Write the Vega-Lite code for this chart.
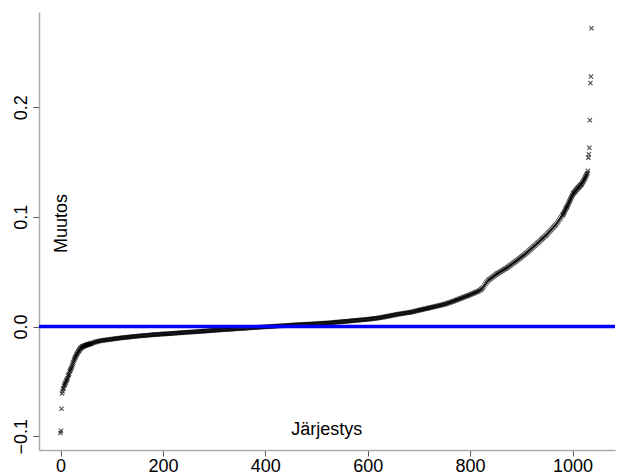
{
"$schema": "https://vega.github.io/schema/vega-lite/v6.json",
"width": 576, "height": 438,
"autosize": {"type": "none"},
"padding": {"left": 39, "top": 12, "right": 3, "bottom": 24},
"background": "white",
"config": {"view": {"stroke": null}, "font": "Liberation Sans",
  "axis": {"grid": false, "title": null, "domainColor": "#aaaaaa", "domainWidth": 1.5, "tickColor": "#555555", "tickWidth": 1, "tickSize": 6, "labelFontSize": 18, "labelColor": "#000000", "labelFont": "Liberation Sans", "labelOverlap": false, "labelFlush": false}},
"layer": [
{"data": {"values": [
{"i":0,"v":-0.097},{"i":1,"v":-0.095},{"i":2,"v":-0.075},{"i":3,"v":-0.061},{"i":4,"v":-0.059},{"i":5,"v":-0.057},{"i":6,"v":-0.056},{"i":7,"v":-0.054},{"i":8,"v":-0.053},{"i":9,"v":-0.052},
{"i":10,"v":-0.051},{"i":11,"v":-0.050},{"i":12,"v":-0.049},{"i":13,"v":-0.048},{"i":14,"v":-0.047},{"i":15,"v":-0.045},{"i":16,"v":-0.044},{"i":17,"v":-0.043},{"i":18,"v":-0.041},{"i":19,"v":-0.040},
{"i":20,"v":-0.039},{"i":21,"v":-0.038},{"i":22,"v":-0.037},{"i":23,"v":-0.0355},{"i":24,"v":-0.034},{"i":25,"v":-0.0325},{"i":26,"v":-0.031},{"i":27,"v":-0.030},{"i":28,"v":-0.029},{"i":29,"v":-0.028},
{"i":30,"v":-0.027},{"i":31,"v":-0.026},{"i":32,"v":-0.025},{"i":33,"v":-0.0243},{"i":34,"v":-0.0235},{"i":35,"v":-0.0228},{"i":36,"v":-0.022},{"i":37,"v":-0.0213},{"i":38,"v":-0.0207},{"i":39,"v":-0.0201},
{"i":40,"v":-0.0196},{"i":41,"v":-0.0192},{"i":42,"v":-0.0188},{"i":43,"v":-0.0185},{"i":44,"v":-0.0182},{"i":45,"v":-0.0180},{"i":46,"v":-0.0178},{"i":47,"v":-0.0176},{"i":48,"v":-0.0174},{"i":49,"v":-0.0172},
{"i":50,"v":-0.0170},{"i":51,"v":-0.0168},{"i":52,"v":-0.0167},{"i":53,"v":-0.0165},{"i":54,"v":-0.0164},{"i":55,"v":-0.0162},{"i":56,"v":-0.0161},{"i":57,"v":-0.0159},{"i":58,"v":-0.0158},{"i":59,"v":-0.0156},
{"i":60,"v":-0.0155},{"i":62,"v":-0.0152},{"i":64,"v":-0.0148},{"i":66,"v":-0.0145},{"i":68,"v":-0.0142},{"i":70,"v":-0.0140},{"i":72,"v":-0.0137},{"i":74,"v":-0.0135},{"i":76,"v":-0.0133},{"i":78,"v":-0.0130},
{"i":80,"v":-0.0128},{"i":82,"v":-0.0127},{"i":84,"v":-0.0125},{"i":86,"v":-0.0124},{"i":88,"v":-0.0123},{"i":90,"v":-0.0122},{"i":92,"v":-0.0120},{"i":94,"v":-0.0119},{"i":96,"v":-0.0118},{"i":98,"v":-0.0116},
{"i":100,"v":-0.0115},{"i":102,"v":-0.0114},{"i":104,"v":-0.0113},{"i":106,"v":-0.0111},{"i":108,"v":-0.0110},{"i":110,"v":-0.0109},{"i":112,"v":-0.0108},{"i":114,"v":-0.0107},{"i":116,"v":-0.0105},{"i":118,"v":-0.0104},
{"i":120,"v":-0.0103},{"i":122,"v":-0.0102},{"i":124,"v":-0.0101},{"i":126,"v":-0.0100},{"i":128,"v":-0.0099},{"i":130,"v":-0.0098},{"i":132,"v":-0.0097},{"i":134,"v":-0.0096},{"i":136,"v":-0.0095},{"i":138,"v":-0.0094},
{"i":140,"v":-0.0093},{"i":142,"v":-0.0092},{"i":144,"v":-0.0091},{"i":146,"v":-0.0090},{"i":148,"v":-0.0089},{"i":150,"v":-0.0088},{"i":152,"v":-0.0087},{"i":154,"v":-0.0086},{"i":156,"v":-0.0085},{"i":158,"v":-0.0085},
{"i":160,"v":-0.0084},{"i":162,"v":-0.0083},{"i":164,"v":-0.0082},{"i":166,"v":-0.0081},{"i":168,"v":-0.0080},{"i":170,"v":-0.0080},{"i":172,"v":-0.0079},{"i":174,"v":-0.0078},{"i":176,"v":-0.0077},{"i":178,"v":-0.0076},
{"i":180,"v":-0.0075},{"i":182,"v":-0.0074},{"i":184,"v":-0.0074},{"i":186,"v":-0.0073},{"i":188,"v":-0.0072},{"i":190,"v":-0.0072},{"i":192,"v":-0.0071},{"i":194,"v":-0.0070},{"i":196,"v":-0.0070},{"i":198,"v":-0.0069},
{"i":200,"v":-0.0068},{"i":202,"v":-0.0068},{"i":204,"v":-0.0067},{"i":206,"v":-0.0067},{"i":208,"v":-0.0066},{"i":210,"v":-0.0065},{"i":212,"v":-0.0065},{"i":214,"v":-0.0064},{"i":216,"v":-0.0063},{"i":218,"v":-0.0063},
{"i":220,"v":-0.0062},{"i":222,"v":-0.0061},{"i":224,"v":-0.0061},{"i":226,"v":-0.0060},{"i":228,"v":-0.0059},{"i":230,"v":-0.0059},{"i":232,"v":-0.0058},{"i":234,"v":-0.0057},{"i":236,"v":-0.0057},{"i":238,"v":-0.0056},
{"i":240,"v":-0.0055},{"i":242,"v":-0.0055},{"i":244,"v":-0.0054},{"i":246,"v":-0.0053},{"i":248,"v":-0.0053},{"i":250,"v":-0.0052},{"i":252,"v":-0.0051},{"i":254,"v":-0.0051},{"i":256,"v":-0.0050},{"i":258,"v":-0.0049},
{"i":260,"v":-0.0049},{"i":262,"v":-0.0048},{"i":264,"v":-0.0047},{"i":266,"v":-0.0047},{"i":268,"v":-0.0046},{"i":270,"v":-0.0045},{"i":272,"v":-0.0045},{"i":274,"v":-0.0044},{"i":276,"v":-0.0043},{"i":278,"v":-0.0043},
{"i":280,"v":-0.0042},{"i":282,"v":-0.0041},{"i":284,"v":-0.0041},{"i":286,"v":-0.0040},{"i":288,"v":-0.0039},{"i":290,"v":-0.0039},{"i":292,"v":-0.0038},{"i":294,"v":-0.0037},{"i":296,"v":-0.0037},{"i":298,"v":-0.0036},
{"i":300,"v":-0.0035},{"i":302,"v":-0.0035},{"i":304,"v":-0.0034},{"i":306,"v":-0.0033},{"i":308,"v":-0.0032},{"i":310,"v":-0.0032},{"i":312,"v":-0.0031},{"i":314,"v":-0.0030},{"i":316,"v":-0.0030},{"i":318,"v":-0.0029},
{"i":320,"v":-0.0028},{"i":322,"v":-0.0028},{"i":324,"v":-0.0027},{"i":326,"v":-0.0026},{"i":328,"v":-0.0026},{"i":330,"v":-0.0025},{"i":332,"v":-0.0025},{"i":334,"v":-0.0024},{"i":336,"v":-0.0023},{"i":338,"v":-0.0023},
{"i":340,"v":-0.0022},{"i":342,"v":-0.0021},{"i":344,"v":-0.0021},{"i":346,"v":-0.0020},{"i":348,"v":-0.0019},{"i":350,"v":-0.0019},{"i":352,"v":-0.0018},{"i":354,"v":-0.0017},{"i":356,"v":-0.0017},{"i":358,"v":-0.0016},
{"i":360,"v":-0.0015},{"i":362,"v":-0.0015},{"i":364,"v":-0.0014},{"i":366,"v":-0.0013},{"i":368,"v":-0.0013},{"i":370,"v":-0.0012},{"i":372,"v":-0.0011},{"i":374,"v":-0.0011},{"i":376,"v":-0.0010},{"i":378,"v":-0.0010},
{"i":380,"v":-0.0009},{"i":382,"v":-0.0008},{"i":384,"v":-0.0008},{"i":386,"v":-0.0007},{"i":388,"v":-0.0007},{"i":390,"v":-0.0006},{"i":392,"v":-0.0005},{"i":394,"v":-0.0005},{"i":396,"v":-0.0004},{"i":398,"v":-0.0004},
{"i":400,"v":-0.0003},{"i":402,"v":-0.0002},{"i":404,"v":-0.0002},{"i":406,"v":-0.0001},{"i":408,"v":-0.0001},{"i":410,"v":0.0000},{"i":412,"v":0.0001},{"i":414,"v":0.0001},{"i":416,"v":0.0002},{"i":418,"v":0.0002},
{"i":420,"v":0.0003},{"i":422,"v":0.0004},{"i":424,"v":0.0004},{"i":426,"v":0.0005},{"i":428,"v":0.0005},{"i":430,"v":0.0006},{"i":432,"v":0.0007},{"i":434,"v":0.0007},{"i":436,"v":0.0008},{"i":438,"v":0.0008},
{"i":440,"v":0.0009},{"i":442,"v":0.0010},{"i":444,"v":0.0010},{"i":446,"v":0.0011},{"i":448,"v":0.0011},{"i":450,"v":0.0012},{"i":452,"v":0.0013},{"i":454,"v":0.0013},{"i":456,"v":0.0014},{"i":458,"v":0.0014},
{"i":460,"v":0.0015},{"i":462,"v":0.0015},{"i":464,"v":0.0016},{"i":466,"v":0.0016},{"i":468,"v":0.0017},{"i":470,"v":0.0018},{"i":472,"v":0.0018},{"i":474,"v":0.0019},{"i":476,"v":0.0019},{"i":478,"v":0.0020},
{"i":480,"v":0.0020},{"i":482,"v":0.0021},{"i":484,"v":0.0021},{"i":486,"v":0.0022},{"i":488,"v":0.0023},{"i":490,"v":0.0023},{"i":492,"v":0.0024},{"i":494,"v":0.0024},{"i":496,"v":0.0025},{"i":498,"v":0.0025},
{"i":500,"v":0.0026},{"i":502,"v":0.0027},{"i":504,"v":0.0027},{"i":506,"v":0.0028},{"i":508,"v":0.0028},{"i":510,"v":0.0029},{"i":512,"v":0.0030},{"i":514,"v":0.0030},{"i":516,"v":0.0031},{"i":518,"v":0.0031},
{"i":520,"v":0.0032},{"i":522,"v":0.0033},{"i":524,"v":0.0033},{"i":526,"v":0.0034},{"i":528,"v":0.0034},{"i":530,"v":0.0035},{"i":532,"v":0.0036},{"i":534,"v":0.0037},{"i":536,"v":0.0038},{"i":538,"v":0.0039},
{"i":540,"v":0.0040},{"i":542,"v":0.0041},{"i":544,"v":0.0041},{"i":546,"v":0.0042},{"i":548,"v":0.0043},{"i":550,"v":0.0044},{"i":552,"v":0.0045},{"i":554,"v":0.0046},{"i":556,"v":0.0046},{"i":558,"v":0.0047},
{"i":560,"v":0.0048},{"i":562,"v":0.0049},{"i":564,"v":0.0050},{"i":566,"v":0.0051},{"i":568,"v":0.0052},{"i":570,"v":0.0053},{"i":572,"v":0.0054},{"i":574,"v":0.0055},{"i":576,"v":0.0055},{"i":578,"v":0.0056},
{"i":580,"v":0.0057},{"i":582,"v":0.0058},{"i":584,"v":0.0059},{"i":586,"v":0.0060},{"i":588,"v":0.0061},{"i":590,"v":0.0062},{"i":592,"v":0.0062},{"i":594,"v":0.0063},{"i":596,"v":0.0064},{"i":598,"v":0.0065},
{"i":600,"v":0.0066},{"i":602,"v":0.0067},{"i":604,"v":0.0068},{"i":606,"v":0.0069},{"i":608,"v":0.0071},{"i":610,"v":0.0072},{"i":612,"v":0.0073},{"i":614,"v":0.0074},{"i":616,"v":0.0075},{"i":618,"v":0.0076},
{"i":620,"v":0.0077},{"i":622,"v":0.0079},{"i":624,"v":0.0080},{"i":626,"v":0.0082},{"i":628,"v":0.0084},{"i":630,"v":0.0085},{"i":632,"v":0.0087},{"i":634,"v":0.0089},{"i":636,"v":0.0091},{"i":638,"v":0.0093},
{"i":640,"v":0.0094},{"i":642,"v":0.0096},{"i":644,"v":0.0098},{"i":646,"v":0.0100},{"i":648,"v":0.0102},{"i":650,"v":0.0103},{"i":652,"v":0.0105},{"i":654,"v":0.0107},{"i":656,"v":0.0109},{"i":658,"v":0.0111},
{"i":660,"v":0.0112},{"i":662,"v":0.0114},{"i":664,"v":0.0116},{"i":666,"v":0.0117},{"i":668,"v":0.0119},{"i":670,"v":0.0120},{"i":672,"v":0.0122},{"i":674,"v":0.0123},{"i":676,"v":0.0125},{"i":678,"v":0.0126},
{"i":680,"v":0.0128},{"i":682,"v":0.0129},{"i":684,"v":0.0131},{"i":686,"v":0.0133},{"i":688,"v":0.0135},{"i":690,"v":0.0137},{"i":692,"v":0.0139},{"i":694,"v":0.0142},{"i":696,"v":0.0144},{"i":698,"v":0.0146},
{"i":700,"v":0.0148},{"i":702,"v":0.0150},{"i":704,"v":0.0152},{"i":706,"v":0.0154},{"i":708,"v":0.0157},{"i":710,"v":0.0159},{"i":712,"v":0.0161},{"i":714,"v":0.0163},{"i":716,"v":0.0165},{"i":718,"v":0.0168},
{"i":720,"v":0.0170},{"i":722,"v":0.0172},{"i":724,"v":0.0174},{"i":726,"v":0.0176},{"i":728,"v":0.0178},{"i":730,"v":0.0181},{"i":732,"v":0.0183},{"i":734,"v":0.0185},{"i":736,"v":0.0187},{"i":738,"v":0.0189},
{"i":740,"v":0.0191},{"i":742,"v":0.0194},{"i":744,"v":0.0196},{"i":746,"v":0.0198},{"i":748,"v":0.0200},{"i":750,"v":0.0203},{"i":752,"v":0.0206},{"i":754,"v":0.0210},{"i":756,"v":0.0213},{"i":758,"v":0.0216},
{"i":760,"v":0.0219},{"i":762,"v":0.0222},{"i":764,"v":0.0225},{"i":766,"v":0.0229},{"i":768,"v":0.0232},{"i":770,"v":0.0235},{"i":772,"v":0.0239},{"i":774,"v":0.0243},{"i":776,"v":0.0246},{"i":778,"v":0.0250},
{"i":780,"v":0.0254},{"i":782,"v":0.0258},{"i":784,"v":0.0261},{"i":786,"v":0.0265},{"i":788,"v":0.0269},{"i":790,"v":0.0272},{"i":792,"v":0.0276},{"i":794,"v":0.0279},{"i":796,"v":0.0283},{"i":798,"v":0.0286},
{"i":800,"v":0.0290},{"i":802,"v":0.0294},{"i":804,"v":0.0298},{"i":806,"v":0.0302},{"i":808,"v":0.0306},{"i":810,"v":0.0310},{"i":812,"v":0.0314},{"i":814,"v":0.0318},{"i":816,"v":0.0322},{"i":818,"v":0.0328},
{"i":820,"v":0.0334},{"i":822,"v":0.0341},{"i":824,"v":0.0348},{"i":826,"v":0.0358},{"i":828,"v":0.0375},{"i":830,"v":0.0390},{"i":832,"v":0.0402},{"i":834,"v":0.0413},{"i":836,"v":0.0423},{"i":838,"v":0.0430},
{"i":840,"v":0.0437},{"i":842,"v":0.0444},{"i":844,"v":0.0451},{"i":846,"v":0.0458},{"i":848,"v":0.0465},{"i":850,"v":0.0472},{"i":852,"v":0.0480},{"i":854,"v":0.0486},{"i":856,"v":0.0491},{"i":858,"v":0.0497},
{"i":860,"v":0.0502},{"i":862,"v":0.0508},{"i":864,"v":0.0513},{"i":866,"v":0.0519},{"i":868,"v":0.0525},{"i":870,"v":0.0530},{"i":872,"v":0.0537},{"i":874,"v":0.0543},{"i":876,"v":0.0550},{"i":878,"v":0.0557},
{"i":880,"v":0.0563},{"i":882,"v":0.0570},{"i":884,"v":0.0577},{"i":886,"v":0.0583},{"i":888,"v":0.0590},{"i":890,"v":0.0597},{"i":892,"v":0.0604},{"i":894,"v":0.0611},{"i":896,"v":0.0618},{"i":898,"v":0.0626},
{"i":900,"v":0.0633},{"i":902,"v":0.0641},{"i":904,"v":0.0648},{"i":906,"v":0.0655},{"i":908,"v":0.0663},{"i":910,"v":0.0670},{"i":912,"v":0.0678},{"i":914,"v":0.0687},{"i":916,"v":0.0695},{"i":918,"v":0.0704},
{"i":920,"v":0.0712},{"i":922,"v":0.0720},{"i":924,"v":0.0729},{"i":926,"v":0.0737},{"i":928,"v":0.0746},{"i":930,"v":0.0754},{"i":932,"v":0.0763},{"i":934,"v":0.0771},{"i":936,"v":0.0780},{"i":938,"v":0.0789},
{"i":940,"v":0.0797},{"i":942,"v":0.0806},{"i":944,"v":0.0814},{"i":946,"v":0.0823},{"i":948,"v":0.0831},{"i":950,"v":0.0840},{"i":952,"v":0.0850},{"i":954,"v":0.0860},{"i":956,"v":0.0870},{"i":958,"v":0.0880},
{"i":960,"v":0.0891},{"i":962,"v":0.0901},{"i":964,"v":0.0911},{"i":966,"v":0.0921},{"i":968,"v":0.0931},{"i":970,"v":0.0943},{"i":972,"v":0.0957},{"i":974,"v":0.0971},{"i":976,"v":0.0985},{"i":978,"v":0.0999},
{"i":980,"v":0.1013},{"i":981,"v":0.1020},{"i":982,"v":0.1027},{"i":983,"v":0.1036},{"i":984,"v":0.1045},{"i":985,"v":0.1054},{"i":986,"v":0.1064},{"i":987,"v":0.1073},{"i":988,"v":0.1082},{"i":989,"v":0.1091},
{"i":990,"v":0.1100},{"i":991,"v":0.1110},{"i":992,"v":0.1120},{"i":993,"v":0.1130},{"i":994,"v":0.1140},{"i":995,"v":0.1150},{"i":996,"v":0.1160},{"i":997,"v":0.1170},{"i":998,"v":0.1180},{"i":999,"v":0.1190},
{"i":1000,"v":0.1200},{"i":1001,"v":0.1210},{"i":1002,"v":0.1216},{"i":1003,"v":0.1221},{"i":1004,"v":0.1227},{"i":1005,"v":0.1232},{"i":1006,"v":0.1238},{"i":1007,"v":0.1243},{"i":1008,"v":0.1249},{"i":1009,"v":0.1254},
{"i":1010,"v":0.1260},{"i":1011,"v":0.1265},{"i":1012,"v":0.1270},{"i":1013,"v":0.1275},{"i":1014,"v":0.1280},{"i":1015,"v":0.1285},{"i":1016,"v":0.1290},{"i":1017,"v":0.1295},{"i":1018,"v":0.1300},{"i":1019,"v":0.1308},
{"i":1020,"v":0.1317},{"i":1021,"v":0.1325},{"i":1022,"v":0.1333},{"i":1023,"v":0.1342},{"i":1024,"v":0.1350},{"i":1025,"v":0.1360},{"i":1026,"v":0.1370},{"i":1027,"v":0.1380},{"i":1028,"v":0.1390},{"i":1029,"v":0.1400},
{"i":1030,"v":0.1420},{"i":1031,"v":0.1540},{"i":1032,"v":0.1570},{"i":1033,"v":0.1630},{"i":1034,"v":0.1880},{"i":1035,"v":0.2220},{"i":1036,"v":0.2280},{"i":1037,"v":0.2720}
]},
 "mark": {"type": "point", "shape": "M-1,-1L1,1M-1,1L1,-1", "filled": false, "stroke": "#000000", "strokeWidth": 1.1, "size": 18, "opacity": 0.7},
 "encoding": {
  "x": {"field": "i", "type": "quantitative", "scale": {"domain": [-42, 1083], "nice": false, "zero": false},
        "axis": {"values": [0, 200, 400, 600, 800, 1000], "format": "d", "labelPadding": 1}},
  "y": {"field": "v", "type": "quantitative", "scale": {"domain": [-0.1126, 0.2868], "nice": false, "zero": false},
        "axis": {"values": [-0.1, 0, 0.1, 0.2], "format": ".1f", "labelAngle": -90, "labelAlign": "center", "labelBaseline": "bottom", "labelPadding": 3}}
 }
},
{"data": {"values": [{"y": 0}]},
 "mark": {"type": "rule", "color": "#0000ff", "strokeWidth": 3.5},
 "encoding": {"y": {"field": "y", "type": "quantitative"}}},
{"data": {"values": [{"x": 2, "y": 0.094, "label": "Muutos"}]},
 "mark": {"type": "text", "angle": 270, "fontSize": 18, "font": "Liberation Sans", "align": "center", "baseline": "middle", "color": "#000000"},
 "encoding": {"x": {"field": "x", "type": "quantitative"}, "y": {"field": "y", "type": "quantitative"}, "text": {"field": "label"}}},
{"data": {"values": [{"x": 520, "y": -0.0943, "label": "Järjestys"}]},
 "mark": {"type": "text", "fontSize": 18, "font": "Liberation Sans", "align": "center", "baseline": "middle", "color": "#000000"},
 "encoding": {"x": {"field": "x", "type": "quantitative"}, "y": {"field": "y", "type": "quantitative"}, "text": {"field": "label"}}}
]
}
